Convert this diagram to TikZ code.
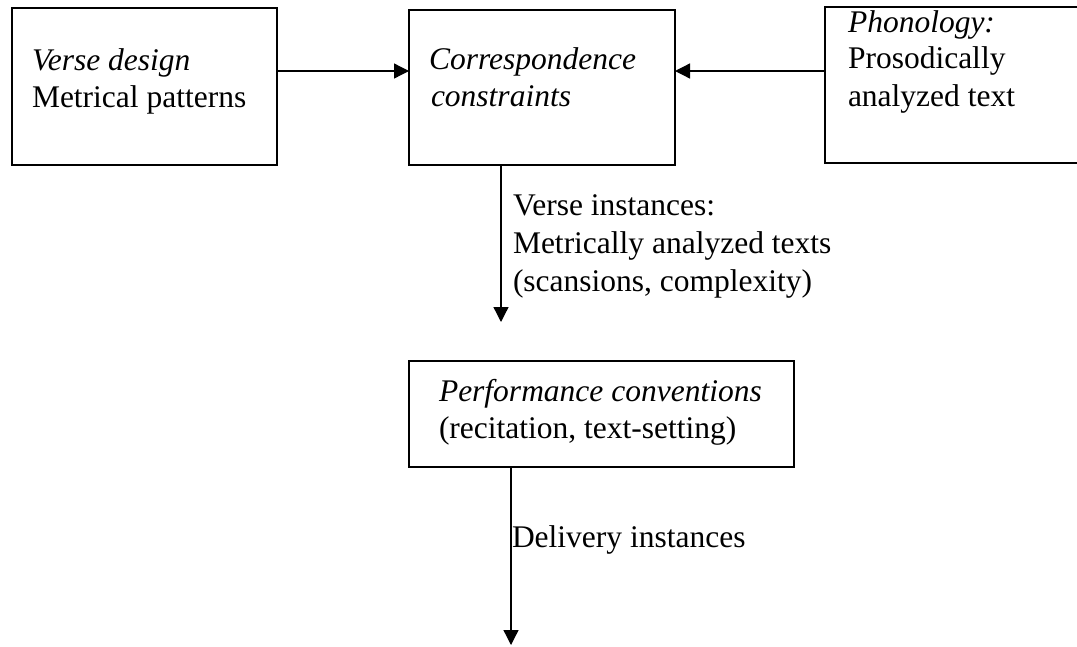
\documentclass[tikz,border=0pt]{standalone}
\usepackage{fontspec}
\setmainfont{Liberation Serif}
\usetikzlibrary{arrows.meta}
\tikzset{
  box/.style={draw, line width=2pt, inner sep=0pt, outer sep=0pt, anchor=north west},
  txt/.style={anchor=base west, inner sep=0pt, outer sep=0pt,
              font=\fontsize{31.5}{37}\selectfont},
  conn/.style={line width=1.3pt, -{Triangle[length=15pt,width=15pt]}}
}
\begin{document}
\begin{tikzpicture}[x=1pt, y=-1pt]
\useasboundingbox (0,0) rectangle (1077,646);
\clip (0,0) rectangle (1077,646);

% boxes
\node[box, minimum width=265pt, minimum height=157pt] (b1) at (12,8) {};
\node[box, minimum width=266pt, minimum height=155.5pt] (b2) at (409,9.5) {};
\node[box, minimum width=280pt, minimum height=156pt] (b3) at (825,7) {};
\node[box, minimum width=385pt, minimum height=106pt] (b4) at (409,361) {};

% box texts
\node[txt] (t1a) at (32,70) {\itshape Verse design};
\node[txt] (t1b) at (32,107) {Metrical patterns};
\node[txt] (t2a) at (429,69) {\itshape Correspondence};
\node[txt] (t2b) at (431,106) {\itshape constraints};
\node[txt] (t3a) at (848,32) {\itshape Phonology:};
\node[txt] (t3b) at (848,68) {Prosodically};
\node[txt] (t3c) at (848,106) {analyzed text};
\node[txt] (t4a) at (439,401) {\itshape Performance conventions};
\node[txt] (t4b) at (439,438) {(recitation, text-setting)};

% connector labels
\node[txt] (l1a) at (513,215) {Verse instances:};
\node[txt] (l1b) at (513,253) {Metrically analyzed texts};
\node[txt] (l1c) at (513,291) {(scansions, complexity)};
\node[txt] (l2) at (512,547) {Delivery instances};

% connectors
\coordinate (row) at (0,71);
\coordinate (v1) at (501,322);
\coordinate (v2) at (511,645);
\draw[conn] (b1.east |- row) -- (b2.west |- row);
\draw[conn] (b3.west |- row) -- (b2.east |- row);
\draw[conn] (b2.south -| v1) -- (v1);
\draw[conn] (b4.south -| v2) -- (v2);
\end{tikzpicture}
\end{document}
